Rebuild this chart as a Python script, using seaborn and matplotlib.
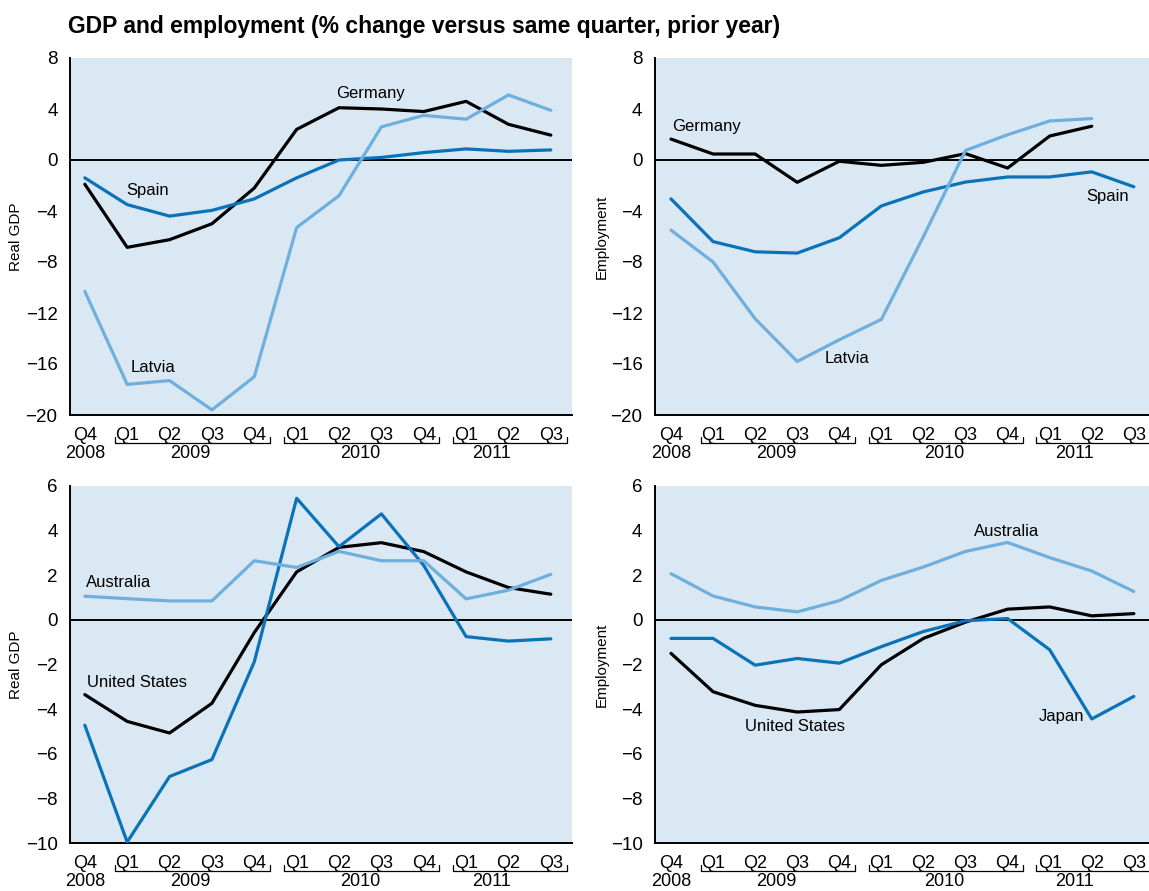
import numpy as np
import pandas as pd
import matplotlib
matplotlib.use("Agg")
import matplotlib.pyplot as plt
import matplotlib.transforms as mtransforms
import seaborn as sns

# ---------------- data ----------------
quarters = ["Q4", "Q1", "Q2", "Q3", "Q4", "Q1", "Q2", "Q3", "Q4", "Q1", "Q2", "Q3"]
years = ["2008", "2009", "2010", "2011"]

# Top-left: Real GDP
gdp_germany = [-1.9, -6.85, -6.25, -5.0, -2.2, 2.4, 4.1, 4.0, 3.8, 4.6, 2.8, 1.95]
gdp_spain = [-1.4, -3.5, -4.4, -3.95, -3.05, -1.4, 0.0, 0.2, 0.58, 0.87, 0.68, 0.79]
gdp_latvia = [-10.3, -17.6, -17.3, -19.6, -17.0, -5.3, -2.8, 2.6, 3.5, 3.2, 5.1, 3.9]

# Top-right: Employment
emp_germany = [1.64, 0.47, 0.47, -1.75, -0.1, -0.42, -0.18, 0.5, -0.63, 1.88, 2.65, np.nan]
emp_spain = [-3.05, -6.4, -7.2, -7.3, -6.1, -3.6, -2.5, -1.73, -1.33, -1.33, -0.93, -2.1]
emp_latvia = [-5.5, -8.0, -12.45, -15.8, -14.1, -12.5, -6.0, 0.75, 1.98, 3.06, 3.25, np.nan]

# Bottom-left: Real GDP
gdp_us = [-3.35, -4.55, -5.07, -3.74, -0.57, 2.15, 3.25, 3.46, 3.06, 2.15, 1.45, 1.15]
gdp_japan = [-4.72, -9.96, -7.02, -6.26, -1.88, 5.45, 3.28, 4.75, 2.44, -0.75, -0.95, -0.85]
gdp_australia = [1.06, 0.95, 0.85, 0.85, 2.65, 2.35, 3.07, 2.65, 2.65, 0.94, 1.33, 2.04]

# Bottom-right: Employment
emp_australia = [2.07, 1.07, 0.58, 0.36, 0.86, 1.77, 2.37, 3.07, 3.47, 2.79, 2.19, 1.27]
emp_us = [-1.5, -3.22, -3.83, -4.13, -4.02, -2.01, -0.83, -0.1, 0.48, 0.58, 0.18, 0.28]
emp_japan = [-0.83, -0.83, -2.03, -1.73, -1.94, -1.2, -0.52, -0.04, 0.06, -1.34, -4.44, -3.43]

# ---------------- style ----------------
sns.set_style("white")
plt.rcParams["font.family"] = ["Liberation Sans Narrow", "Liberation Sans", "DejaVu Sans"]
plt.rcParams["text.color"] = "black"
plt.rcParams["axes.labelcolor"] = "black"
plt.rcParams["xtick.color"] = "black"
plt.rcParams["ytick.color"] = "black"

BG = "#DAE8F3"
DARK = "#0A72B7"
LIGHT = "#6FAFDD"
BLACK = "#000000"

fig = plt.figure(figsize=(11.49, 8.91), dpi=100)
W, H = 1149, 891


def make_ax(left_px, right_px, top_px, bottom_px):
    return fig.add_axes([left_px / W, 1 - bottom_px / H,
                         (right_px - left_px) / W, (bottom_px - top_px) / H])


ax_tl = make_ax(70, 572, 58, 415)
ax_tr = make_ax(655, 1149, 58, 415)
ax_bl = make_ax(70, 572, 486, 843)
ax_br = make_ax(655, 1149, 486, 843)

x = np.arange(len(quarters))


def draw_panel(ax, series, colors, ylim, yticks, ylabel, labels, xlim, label_x):
    rows = []
    for name, vals in series.items():
        for i, v in enumerate(vals):
            rows.append({"idx": i, "value": v, "country": name})
    df = pd.DataFrame(rows).dropna()
    sns.lineplot(data=df, x="idx", y="value", hue="country",
                 palette=colors, hue_order=list(series.keys()),
                 linewidth=2.3, legend=False, ax=ax, zorder=3)
    ax.set_facecolor(BG)
    ax.set_xlim(*xlim)
    ax.set_ylim(*ylim)
    ax.axhline(0, color="black", linewidth=1.4, zorder=2)
    for s in ["top", "right"]:
        ax.spines[s].set_visible(False)
    for s in ["left", "bottom"]:
        ax.spines[s].set_color("black")
        ax.spines[s].set_linewidth(1.4)
    ax.set_yticks(yticks)
    ax.set_yticklabels([str(t).replace("-", "\u2212") for t in yticks], fontsize=13.5)
    ax.tick_params(axis="y", direction="out", length=7, width=1.2, pad=2, colors="black")
    ax.set_xticks(x)
    ax.set_xticklabels(quarters, fontsize=13)
    ax.tick_params(axis="x", length=0, pad=9)
    ax.set_xlabel("")
    ax.set_ylabel(ylabel, fontsize=11)
    ax.yaxis.set_label_coords(label_x, 0.5)
    for txt, xi, yi in labels:
        ax.text(xi, yi, txt, fontsize=12, ha="center", va="center", zorder=4)

    trans = mtransforms.blended_transform_factory(ax.transData, ax.transAxes)
    ax_h = 357.0
    y_br = -28 / ax_h
    y_up = -22 / ax_h
    y_year = -39 / ax_h
    ax.text(0, y_year, years[0], transform=trans, ha="center", va="center", fontsize=13)
    brackets = [(0.72, 4.38, 2.5, years[1]), (4.7, 8.36, 6.5, years[2]), (8.68, 11.38, 9.6, years[3])]
    for a, b, c, yr in brackets:
        ax.plot([a, a, b, b], [y_up, y_br, y_br, y_up], transform=trans,
                color="black", linewidth=0.9, clip_on=False)
        ax.text(c, y_year, yr, transform=trans, ha="center", va="center", fontsize=13)


draw_panel(ax_tl,
           {"Germany": gdp_germany, "Spain": gdp_spain, "Latvia": gdp_latvia},
           [BLACK, DARK, LIGHT], (-20, 8), [-20, -16, -12, -8, -4, 0, 4, 8], "Real GDP",
           [("Germany", 6.75, 5.2), ("Spain", 1.47, -2.4), ("Latvia", 1.6, -16.3)],
           (-0.35, 11.5), -0.093)
draw_panel(ax_tr,
           {"Germany": emp_germany, "Spain": emp_spain, "Latvia": emp_latvia},
           [BLACK, DARK, LIGHT], (-20, 8), [-20, -16, -12, -8, -4, 0, 4, 8], "Employment",
           [("Germany", 0.85, 2.65), ("Latvia", 4.18, -15.6), ("Spain", 10.37, -2.85)],
           (-0.38, 11.36), -0.093)
draw_panel(ax_bl,
           {"United States": gdp_us, "Japan": gdp_japan, "Australia": gdp_australia},
           [BLACK, DARK, LIGHT], (-10, 6), [-10, -8, -6, -4, -2, 0, 2, 4, 6], "Real GDP",
           [("Australia", 0.8, 1.67), ("United States", 1.22, -2.8)],
           (-0.35, 11.5), -0.093)
draw_panel(ax_br,
           {"United States": emp_us, "Japan": emp_japan, "Australia": emp_australia},
           [BLACK, DARK, LIGHT], (-10, 6), [-10, -8, -6, -4, -2, 0, 2, 4, 6], "Employment",
           [("Australia", 7.97, 3.98), ("United States", 2.95, -4.78), ("Japan", 9.28, -4.34)],
           (-0.38, 11.36), -0.093)

fig.text(68 / W, 1 - 27 / H, "GDP and employment (% change versus same quarter, prior year)",
         fontsize=16.5, fontweight="bold", ha="left", va="center")

fig.savefig("out.png", dpi=100)
